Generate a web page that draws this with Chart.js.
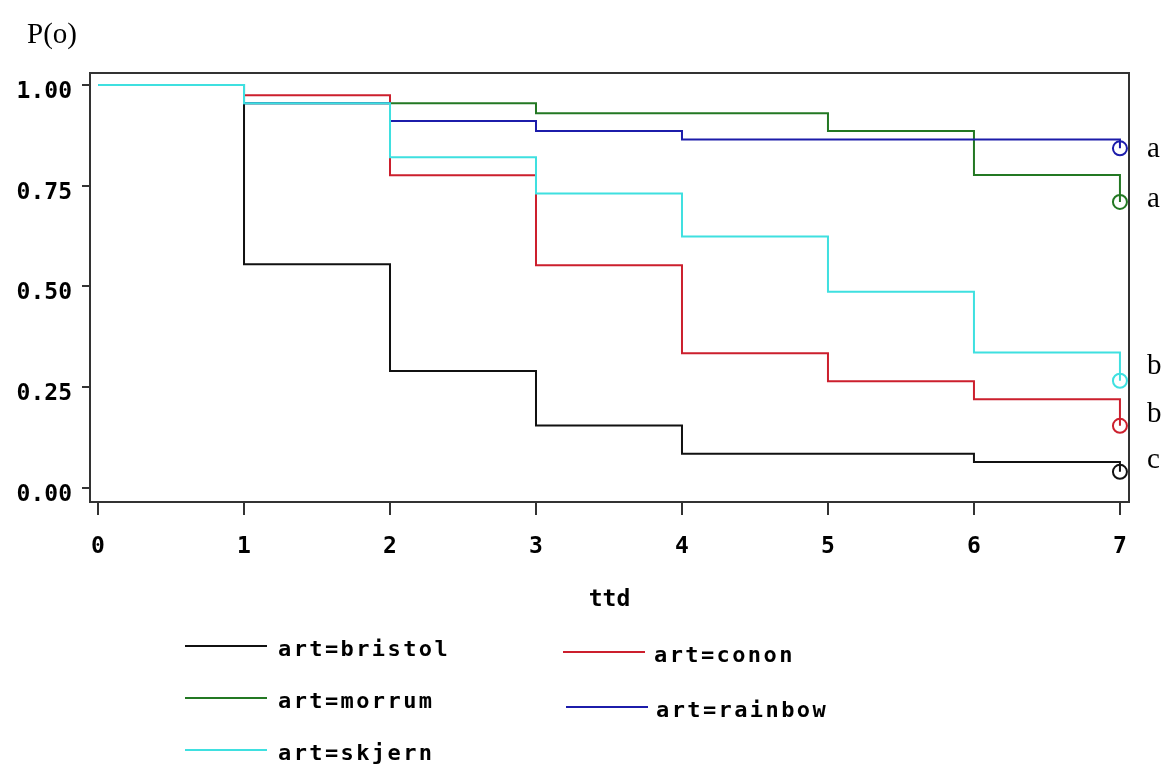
<!DOCTYPE html>
<html>
<head>
<meta charset="utf-8">
<title>P(o) by ttd</title>
<script src="https://cdn.jsdelivr.net/npm/chart.js@4.4.1/dist/chart.umd.min.js"></script>
<style>
  html, body { margin: 0; padding: 0; background: #fff; }
  #survival { display: block; }
</style>
</head>
<body>
<canvas id="survival" width="1167" height="765"></canvas>
<script>
// Kaplan-Meier style survival per strain, one value per day (0..7)
const days = [0, 1, 2, 3, 4, 5, 6, 7];
const bristol = [1, 0.555, 0.290, 0.155, 0.085, 0.085, 0.064, 0.040];
const conon   = [1, 0.975, 0.776, 0.553, 0.334, 0.265, 0.220, 0.154];
const morrum  = [1, 0.955, 0.955, 0.930, 0.930, 0.886, 0.777, 0.710];
const rainbow = [1, 0.955, 0.911, 0.886, 0.865, 0.865, 0.865, 0.843];
const skjern  = [1, 0.955, 0.821, 0.731, 0.624, 0.487, 0.336, 0.266];

const strains = ["art=bristol", "art=conon", "art=morrum", "art=rainbow", "art=skjern"];
const series = [bristol, conon, morrum, rainbow, skjern];
const groups = ["c", "b", "a", "a", "b"];

const yTicks = [0, 0.25, 0.5, 0.75, 1];
const xTicks = days;

const colors = ["#111111", "#cc1f2d", "#237823", "#1c1caa", "#3fe0e0"];
const axisColor = "#333333";
const tickFont = { family: "'DejaVu Sans Mono', monospace", size: 23, weight: "bold" };

// legend slots: [lineStartX, lineEndX, textX, textY]
const legendSlots = [
  [185, 267, 278, 650],
  [563, 645, 654, 656],
  [185, 267, 278, 702],
  [566, 648, 656, 711],
  [185, 267, 278, 754]
];
// vertical nudge for the group letters beside the end markers
const letterNudge = [-11, -11, -2, 2, -14];

const datasets = series.map((vals, i) => ({
  label: strains[i],
  data: days.map((d, k) => ({ x: d, y: vals[k] })),
  borderColor: colors[i],
  borderWidth: 2,
  stepped: true,
  tension: 0,
  fill: false,
  order: series.length - i,
  pointRadius: days.map((d, k) => (k === days.length - 1 ? 7 : 0)),
  pointBorderWidth: 2,
  pointBorderColor: colors[i],
  pointBackgroundColor: "rgba(0,0,0,0)",
  pointStyle: "circle"
}));

const frame = {
  id: "frame",
  beforeDatasetsDraw(chart) {
    const { ctx, chartArea: a } = chart;
    ctx.save();
    ctx.strokeStyle = axisColor;
    ctx.lineWidth = 2;
    ctx.strokeRect(a.left, a.top, a.right - a.left, a.bottom - a.top);
    ctx.restore();
  }
};

const annotations = {
  id: "annotations",
  afterDraw(chart) {
    const { ctx } = chart;
    const xs = chart.scales.x, ys = chart.scales.y;
    ctx.save();

    // y axis caption
    ctx.fillStyle = "#000";
    ctx.font = "29px 'Liberation Serif', 'Times New Roman', serif";
    ctx.textAlign = "left";
    ctx.textBaseline = "alphabetic";
    ctx.fillText("P(o)", 27, 43);

    // group letters next to the last value of each curve
    const last = days.length - 1;
    series.forEach((vals, i) => {
      const y = ys.getPixelForValue(vals[last]) + letterNudge[i];
      ctx.fillText(groups[i], xs.right + 18, y + 7);
    });

    // legend
    ctx.font = "bold 22px 'DejaVu Sans Mono', monospace";
    ctx.letterSpacing = "2.4px";
    ctx.textBaseline = "middle";
    chart.data.datasets.forEach((ds, i) => {
      const [x0, x1, tx, ty] = legendSlots[i];
      ctx.strokeStyle = ds.borderColor;
      ctx.lineWidth = 2;
      ctx.beginPath();
      ctx.moveTo(x0, ty - 4);
      ctx.lineTo(x1, ty - 4);
      ctx.stroke();
      ctx.fillStyle = "#000";
      ctx.fillText(ds.label, tx, ty);
    });
    ctx.restore();
  }
};

new Chart(document.getElementById("survival"), {
  type: "line",
  data: { datasets },
  plugins: [frame, annotations],
  options: {
    responsive: false,
    animation: false,
    devicePixelRatio: 1,
    layout: { padding: { left: 0, top: 73, right: 38, bottom: 151 } },
    plugins: { legend: { display: false }, tooltip: { enabled: false } },
    scales: {
      x: {
        type: "linear",
        min: -0.055,
        max: 7.062,
        afterBuildTicks: (s) => { s.ticks = xTicks.map((v) => ({ value: v })); },
        afterFit: (s) => { s.height = 112; },
        border: { display: false },
        grid: { drawOnChartArea: false, drawTicks: true, tickLength: 13, color: axisColor, lineWidth: 2 },
        ticks: { color: "#000", font: tickFont, padding: 18, maxRotation: 0 },
        title: { display: true, text: "ttd", color: "#000", font: tickFont, padding: 0 }
      },
      y: {
        min: -0.035,
        max: 1.03,
        afterBuildTicks: (s) => { s.ticks = yTicks.map((v) => ({ value: v })); },
        afterFit: (s) => { s.width = 90; },
        border: { display: false },
        grid: { drawOnChartArea: false, drawTicks: true, tickLength: 8, color: axisColor, lineWidth: 2 },
        ticks: {
          color: "#000",
          font: tickFont,
          padding: 10,
          labelOffset: 7,
          callback: (v) => Number(v).toFixed(2)
        }
      }
    }
  }
});
</script>
</body>
</html>
